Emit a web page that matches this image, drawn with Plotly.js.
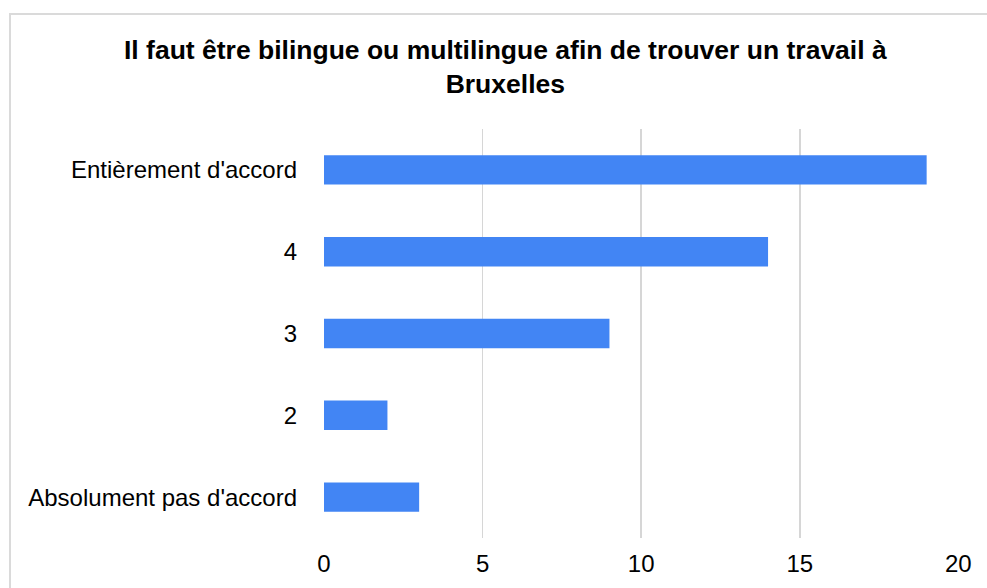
<!DOCTYPE html>
<html>
<head>
<meta charset="utf-8">
<script src="https://cdn.plot.ly/plotly-3.0.1.min.js"></script>
<style>
html,body{margin:0;padding:0;background:#fff;overflow:hidden;}
#frame{position:absolute;left:9px;top:13px;width:1000px;height:600px;border:2px solid #dadada;box-sizing:border-box;}
#chart{position:absolute;left:0;top:0;width:987px;height:588px;}
</style>
</head>
<body>
<div id="frame"></div>
<div id="chart"></div>
<script>
const categories = ["Entièrement d'accord", "4", "3", "2", "Absolument pas d'accord"];
const values = [19, 14, 9, 2, 3];
const xTicks = [0, 5, 10, 15, 20];
const titleText = "Il faut être bilingue ou multilingue afin de trouver un travail à<br>Bruxelles";

const trace = {
  type: 'bar',
  orientation: 'h',
  x: values,
  y: categories,
  marker: {color: '#4285f4'},
  hoverinfo: 'x+y'
};

const layout = {
  width: 987,
  height: 588,
  paper_bgcolor: 'rgba(0,0,0,0)',
  plot_bgcolor: 'rgba(0,0,0,0)',
  margin: {l: 324, r: 28, t: 129, b: 50},
  bargap: 0.64,
  showlegend: false,
  font: {family: 'Arial, "Liberation Sans", sans-serif', color: '#000'},
  title: {
    text: titleText,
    font: {size: 26.5, family: 'Arial, "Liberation Sans", sans-serif', color: '#000', weight: 'bold'},
    x: 0.512, xanchor: 'center', y: 0.9, yanchor: 'middle'
  },
  xaxis: {
    range: [0, 20.02],
    tickvals: xTicks,
    ticktext: xTicks.map(String),
    showgrid: true,
    gridcolor: '#d6d6d6',
    gridwidth: 1.5,
    zeroline: false,
    showline: false,
    ticks: '',
    ticklabelstandoff: 9,
    tickfont: {size: 24, color: '#000'},
    fixedrange: true
  },
  yaxis: {
    type: 'category',
    categoryorder: 'array',
    categoryarray: categories.slice().reverse(),
    autorange: false,
    range: [-0.5, 4.5],
    showgrid: false,
    zeroline: false,
    showline: false,
    ticks: '',
    ticklabelstandoff: 26,
    tickfont: {size: 24, color: '#000'},
    fixedrange: true
  }
};

Plotly.newPlot('chart', [trace], layout, {displayModeBar: false, staticPlot: true});
</script>
</body>
</html>
